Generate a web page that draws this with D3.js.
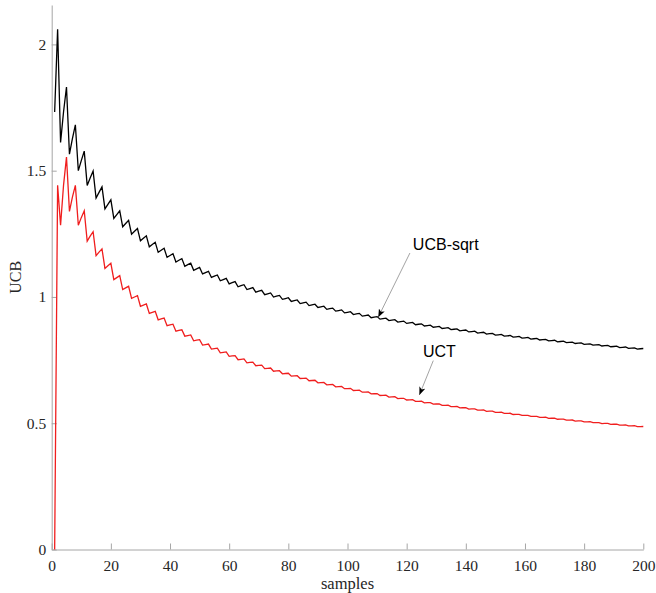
<!DOCTYPE html>
<html>
<head>
<meta charset="utf-8">
<script src="https://cdn.jsdelivr.net/npm/d3@7"></script>
<style>
  html, body { margin: 0; padding: 0; background: #fff; }
  svg { display: block; }
</style>
</head>
<body>
<svg id="chart" width="656" height="593"></svg>
<script>
// ---- data ----
const samples = d3.range(1, 201); // sample index 1..200

const uct = [
0, 1.4420,
1.2837, 1.4420, 1.5538,
1.3386, 1.3950, 1.4420,
1.2837, 1.3141, 1.3411,
1.2210, 1.2406, 1.2583,
1.1636, 1.1774, 1.1902,
1.1130, 1.1233, 1.1331,
1.0685, 1.0766, 1.0843,
1.0292, 1.0358, 1.0421,
0.9944, 0.9998, 1.0051,
0.9631, 0.9678, 0.9722,
0.9350, 0.9389, 0.9428,
0.9094, 0.9129, 0.9162,
0.8860, 0.8891, 0.8921,
0.8646, 0.8673, 0.8700,
0.8448, 0.8473, 0.8497,
0.8265, 0.8287, 0.8309,
0.8095, 0.8115, 0.8135,
0.7936, 0.7955, 0.7972,
0.7788, 0.7804, 0.7821,
0.7648, 0.7663, 0.7678,
0.7516, 0.7531, 0.7545,
0.7392, 0.7406, 0.7419,
0.7275, 0.7287, 0.7300,
0.7164, 0.7175, 0.7187,
0.7058, 0.7069, 0.7080,
0.6958, 0.6968, 0.6978,
0.6862, 0.6871, 0.6881,
0.6770, 0.6779, 0.6788,
0.6683, 0.6691, 0.6700,
0.6599, 0.6607, 0.6615,
0.6519, 0.6526, 0.6534,
0.6442, 0.6449, 0.6456,
0.6367, 0.6374, 0.6381,
0.6296, 0.6303, 0.6309,
0.6228, 0.6234, 0.6240,
0.6161, 0.6168, 0.6174,
0.6098, 0.6103, 0.6109,
0.6036, 0.6041, 0.6047,
0.5976, 0.5982, 0.5987,
0.5919, 0.5924, 0.5929,
0.5863, 0.5868, 0.5873,
0.5809, 0.5813, 0.5818,
0.5756, 0.5761, 0.5765,
0.5705, 0.5710, 0.5714,
0.5656, 0.5660, 0.5665,
0.5608, 0.5612, 0.5616,
0.5561, 0.5565, 0.5569,
0.5516, 0.5520, 0.5524,
0.5472, 0.5476, 0.5479,
0.5429, 0.5433, 0.5436,
0.5387, 0.5391, 0.5394,
0.5346, 0.5350, 0.5353,
0.5307, 0.5310, 0.5313,
0.5268, 0.5271, 0.5274,
0.5230, 0.5233, 0.5236,
0.5193, 0.5196, 0.5199,
0.5157, 0.5160, 0.5163,
0.5122, 0.5125, 0.5127,
0.5087, 0.5090, 0.5093,
0.5054, 0.5056, 0.5059,
0.5021, 0.5023, 0.5026,
0.4988, 0.4991, 0.4994,
0.4957, 0.4959, 0.4962,
0.4926, 0.4928, 0.4931,
0.4896, 0.4898, 0.4900,
0.4866, 0.4868, 0.4871
];

const ucbSqrt = [
1.7321, 2.0598,
1.6119, 1.7321, 1.8314,
1.5651, 1.6266, 1.6818,
1.5000, 1.5400, 1.5772,
1.4417, 1.4708, 1.4983,
1.3916, 1.4142, 1.4358,
1.3484, 1.3668, 1.3844,
1.3109, 1.3262, 1.3411,
1.2779, 1.2910, 1.3037,
1.2485, 1.2599, 1.2710,
1.2222, 1.2323, 1.2421,
1.1984, 1.2074, 1.2162,
1.1767, 1.1848, 1.1927,
1.1568, 1.1642, 1.1714,
1.1385, 1.1452, 1.1518,
1.1215, 1.1277, 1.1338,
1.1057, 1.1114, 1.1171,
1.0910, 1.0963, 1.1015,
1.0772, 1.0821, 1.0870,
1.0642, 1.0688, 1.0734,
1.0519, 1.0563, 1.0606,
1.0404, 1.0445, 1.0485,
1.0294, 1.0333, 1.0371,
1.0190, 1.0227, 1.0263,
1.0091, 1.0126, 1.0160,
0.9996, 1.0029, 1.0062,
0.9906, 0.9938, 0.9969,
0.9820, 0.9850, 0.9880,
0.9737, 0.9766, 0.9795,
0.9658, 0.9686, 0.9713,
0.9582, 0.9608, 0.9634,
0.9508, 0.9534, 0.9559,
0.9438, 0.9462, 0.9487,
0.9370, 0.9393, 0.9417,
0.9304, 0.9327, 0.9349,
0.9241, 0.9263, 0.9284,
0.9179, 0.9201, 0.9222,
0.9120, 0.9141, 0.9161,
0.9063, 0.9082, 0.9102,
0.9007, 0.9026, 0.9045,
0.8953, 0.8972, 0.8990,
0.8900, 0.8919, 0.8936,
0.8850, 0.8867, 0.8884,
0.8800, 0.8817, 0.8834,
0.8752, 0.8768, 0.8785,
0.8705, 0.8721, 0.8737,
0.8659, 0.8675, 0.8691,
0.8615, 0.8630, 0.8645,
0.8571, 0.8586, 0.8601,
0.8529, 0.8544, 0.8558,
0.8488, 0.8502, 0.8516,
0.8448, 0.8461, 0.8475,
0.8408, 0.8422, 0.8435,
0.8370, 0.8383, 0.8396,
0.8332, 0.8345, 0.8358,
0.8295, 0.8308, 0.8320,
0.8259, 0.8272, 0.8284,
0.8224, 0.8236, 0.8248,
0.8190, 0.8202, 0.8213,
0.8156, 0.8168, 0.8179,
0.8123, 0.8134, 0.8145,
0.8091, 0.8102, 0.8112,
0.8059, 0.8070, 0.8080,
0.8028, 0.8038, 0.8049,
0.7997, 0.8007, 0.8018,
0.7967, 0.7977, 0.7987,
0.7938, 0.7948, 0.7958
];

const xTicks = [0, 20, 40, 60, 80, 100, 120, 140, 160, 180, 200];
const yTicks = [0, 0.5, 1, 1.5, 2];
const xLabel = "samples";
const yLabel = "UCB";

// annotations in data coordinates: text position, arrow start, arrow tip
const annotations = [
  { text: "UCB-sqrt", tx: 122.1, ty: 1.186, x1: 121.1, y1: 1.174, x2: 110.4, y2: 0.920 },
  { text: "UCT",      tx: 125.5, ty: 0.764, x1: 129.0, y1: 0.748, x2: 124.3, y2: 0.612 }
];

// ---- drawing ----
const svg = d3.select("#chart");
const x = d3.scaleLinear().domain([0, 200]).range([51.7, 643.3]);
const y = d3.scaleLinear().domain([0, 2.156]).range([549.5, 5]);

const serif = "'Liberation Serif', 'Times New Roman', serif";
const sans = "'Liberation Sans', Arial, Helvetica, sans-serif";

// x axis
const gx = svg.append("g")
  .attr("transform", `translate(0,${y(0)})`)
  .call(d3.axisBottom(x).tickValues(xTicks).tickFormat(d3.format("d"))
        .tickSizeInner(-6).tickSizeOuter(0).tickPadding(10));
// y axis
const gy = svg.append("g")
  .attr("transform", `translate(${x(0)},0)`)
  .call(d3.axisLeft(y).tickValues(yTicks).tickFormat(d => String(d))
        .tickSizeInner(-5).tickSizeOuter(0).tickPadding(5.5));

[gx, gy].forEach(g => {
  g.select(".domain").attr("stroke", "#a6a6a6").attr("stroke-width", 1);
  g.selectAll(".tick line").attr("stroke", "#a6a6a6").attr("stroke-width", 1);
  g.selectAll(".tick text").attr("fill", "#262626")
    .style("font-family", serif).style("font-size", "15.5px");
});

// axis labels
svg.append("text")
  .attr("x", (x(0) + x(200)) / 2).attr("y", 588.5)
  .attr("text-anchor", "middle")
  .style("font-family", serif).style("font-size", "16.5px").attr("fill", "#262626")
  .text(xLabel);
svg.append("text")
  .attr("transform", `translate(20.5,${(y(0) + y.range()[1]) / 2}) rotate(-90)`)
  .attr("text-anchor", "middle")
  .style("font-family", serif).style("font-size", "16px").attr("fill", "#262626")
  .text(yLabel);

// lines
const line = d3.line().x((d, i) => x(samples[i])).y(d => y(d));
svg.append("path").datum(ucbSqrt)
  .attr("fill", "none").attr("stroke", "#000").attr("stroke-width", 1.3)
  .attr("d", line);
svg.append("path").datum(uct)
  .attr("fill", "none").attr("stroke", "#f01e1e").attr("stroke-width", 1.3)
  .attr("d", line);

// arrow marker
svg.append("defs").append("marker")
  .attr("id", "arr").attr("markerUnits", "userSpaceOnUse")
  .attr("viewBox", "0 -4 10 8").attr("refX", 10).attr("refY", 0)
  .attr("markerWidth", 8).attr("markerHeight", 6.4).attr("orient", "auto")
  .append("path").attr("d", "M0,-4L10,0L0,4L2.5,0Z").attr("fill", "#000");

const ann = svg.append("g");
annotations.forEach(a => {
  ann.append("line")
    .attr("x1", x(a.x1)).attr("y1", y(a.y1))
    .attr("x2", x(a.x2)).attr("y2", y(a.y2))
    .attr("stroke", "#8c8c8c").attr("stroke-width", 0.8)
    .attr("marker-end", "url(#arr)");
  ann.append("text")
    .attr("x", x(a.tx)).attr("y", y(a.ty))
    .style("font-family", sans).style("font-size", "16px").attr("fill", "#000")
    .text(a.text);
});
</script>
</body>
</html>
